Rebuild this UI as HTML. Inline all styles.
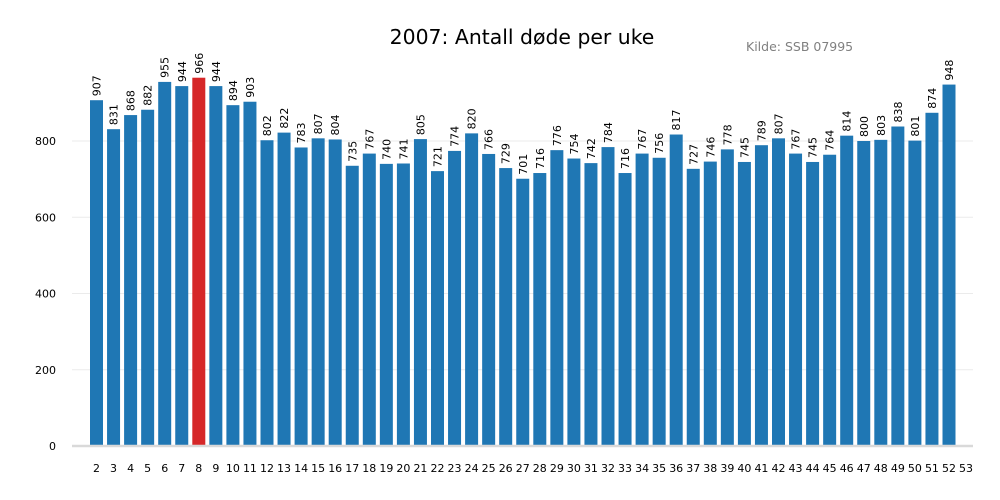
<!DOCTYPE html>
<html><head><meta charset="utf-8"><style>
html,body{margin:0;padding:0;background:#fff;width:1000px;height:500px;overflow:hidden}
svg{display:block;font-family:"DejaVu Sans","Liberation Sans",sans-serif}
</style></head><body>
<svg id="c" width="1000" height="500" viewBox="0 0 1000 500">
<rect width="1000" height="500" fill="#fff"/>
<text x="522" y="44" text-anchor="middle" font-size="20.4" fill="#000">2007: Antall døde per uke</text>
<text x="746" y="51" font-size="12.5" fill="#808080">Kilde: SSB 07995</text>
</svg>
<script>
var v=[907,831,868,882,955,944,966,944,894,903,802,822,783,807,804,735,767,740,741,805,721,774,820,766,729,701,716,776,754,742,784,716,767,756,817,727,746,778,745,789,807,767,745,764,814,800,803,838,801,874,948];
var s=document.getElementById('c'),h='';
function Y(x){return 446-x*0.38125;}
[200,400,600,800].forEach(function(t){h+='<line x1="72" x2="973" y1="'+Y(t)+'" y2="'+Y(t)+'" stroke="#ebebeb" stroke-width="1"/>';});
[0,200,400,600,800].forEach(function(t){h+='<text x="56" y="'+(Y(t)+4)+'" text-anchor="end" font-size="11" fill="#000">'+t+'</text>';});
var step=(949-96.5)/50;
v.forEach(function(d,i){var cx=96.5+i*step,y=Y(d);
h+='<rect x="'+(cx-6.5)+'" y="'+y+'" width="13" height="'+(446-y)+'" fill="'+(i==6?'#d62728':'#1f77b4')+'"/>';
h+='<text transform="translate('+(cx+4)+','+(y-4)+') rotate(-90)" font-size="11" fill="#000">'+d+'</text>';});
for(var i=0;i<52;i++){var cx=96.5+i*step;h+='<text x="'+cx+'" y="472" text-anchor="middle" font-size="11" fill="#000">'+(i+2)+'</text>';}
h+='<line x1="72" x2="973" y1="446" y2="446" stroke="#d9d9d9" stroke-width="2.5"/>';
s.insertAdjacentHTML('beforeend',h);
</script>
</body></html>
